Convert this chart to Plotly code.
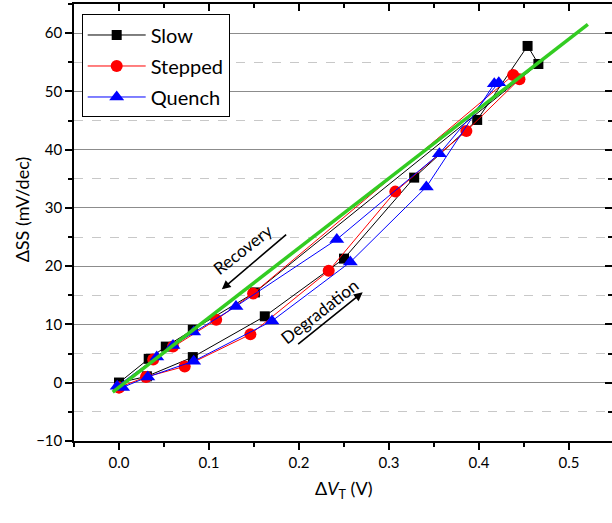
import plotly.graph_objects as go

# ---- data ----
slow_x = [0.0, 0.031, 0.082, 0.162, 0.250, 0.328, 0.398, 0.454, 0.466, 0.151, 0.082, 0.052, 0.033, 0.0]
slow_y = [0.0, 1.1, 4.4, 11.4, 21.3, 35.2, 45.1, 57.8, 54.7, 15.5, 9.1, 6.2, 4.1, 0.0]

stepped_x = [0.0, 0.030, 0.073, 0.146, 0.233, 0.307, 0.386, 0.445, 0.438, 0.149, 0.108, 0.060, 0.038, 0.0]
stepped_y = [-0.8, 1.0, 2.8, 8.3, 19.2, 32.8, 43.2, 52.1, 52.8, 15.3, 10.8, 6.2, 4.0, -0.8]

quench_x = [0.004, 0.032, 0.083, 0.170, 0.257, 0.3415, 0.417, 0.422, 0.356, 0.242, 0.130, 0.083, 0.060, 0.042, -0.002]
quench_y = [-0.8, 1.0, 3.7, 10.6, 20.7, 33.6, 51.3, 51.5, 39.3, 24.6, 13.1, 8.7, 6.4, 4.4, -0.6]

fit_x = [-0.007, 0.521]
fit_y = [-1.6, 61.5]

x_range = [-0.05, 0.5478]
y_range = [-10, 65]

FONT = "Lato"

fig = go.Figure()
fig.add_trace(go.Scatter(x=slow_x, y=slow_y, mode="lines+markers", name="Slow",
                         line=dict(color="black", width=1),
                         marker=dict(symbol="square", size=10, color="black"),
                         legendgroup="a"))
fig.add_trace(go.Scatter(x=stepped_x, y=stepped_y, mode="lines+markers", name="Stepped",
                         line=dict(color="red", width=1),
                         marker=dict(symbol="circle", size=12, color="red"),
                         legendgroup="b"))
fig.add_trace(go.Scatter(x=quench_x, y=quench_y, mode="lines+markers", name="Quench",
                         line=dict(color="blue", width=1),
                         marker=dict(symbol="triangle-up", size=13, color="blue"),
                         legendgroup="c"))
fig.add_trace(go.Scatter(x=fit_x, y=fit_y, mode="lines", showlegend=False,
                         line=dict(color="#33cc22", width=3.5)))
# invisible trace to activate the mirror axes
fig.add_trace(go.Scatter(x=[0], y=[0], xaxis="x2", yaxis="y2", mode="markers",
                         marker=dict(opacity=0), showlegend=False, hoverinfo="skip"))

fig.update_layout(
    width=612, height=523,
    margin=dict(l=74, r=0, t=4, b=82, autoexpand=False),
    plot_bgcolor="white", paper_bgcolor="white",
    font=dict(family=FONT, color="black", size=15),
    showlegend=True,
    legend=dict(x=0.0143, y=0.976, xanchor="left", yanchor="top",
                bordercolor="black", borderwidth=1, bgcolor="white",
                font=dict(size=20, family=FONT), tracegroupgap=2,
                itemwidth=58),
    xaxis=dict(range=x_range, showgrid=False, zeroline=False, automargin=False,
               showline=True, linecolor="black", linewidth=1.5,
               ticks="outside", ticklen=7, tickwidth=1.5, tickcolor="black",
               dtick=0.1, tick0=0, tickformat=".1f",
               minor=dict(dtick=0.05, ticks="outside", ticklen=4, tickwidth=1.5, tickcolor="black"),
               tickfont=dict(size=15)),
    xaxis2=dict(range=x_range, overlaying="x", side="top", showgrid=False, zeroline=False,
                automargin=False,
                showline=True, linecolor="black", linewidth=1.5,
                ticks="inside", ticklen=7, tickwidth=1.5, tickcolor="black",
                dtick=0.1, tick0=0, showticklabels=False,
                minor=dict(dtick=0.05, ticks="inside", ticklen=4, tickwidth=1.5, tickcolor="black")),
    yaxis=dict(range=y_range, zeroline=False, automargin=False,
               showgrid=True, gridcolor="#8c8c8c", gridwidth=1,
               showline=True, linecolor="black", linewidth=1.5,
               ticks="outside", ticklen=7, tickwidth=1.5, tickcolor="black",
               dtick=10, tick0=0,
               minor=dict(dtick=5, ticks="outside", ticklen=4, tickwidth=1.5, tickcolor="black",
                          showgrid=True, gridcolor="#c8c8c8", griddash="dash", gridwidth=1),
               tickfont=dict(size=15)),
    yaxis2=dict(range=y_range, overlaying="y", side="right", showgrid=False, zeroline=False,
                automargin=False,
                showline=True, linecolor="black", linewidth=1.5,
                ticks="inside", ticklen=7, tickwidth=1.5, tickcolor="black",
                dtick=10, tick0=0, showticklabels=False,
                minor=dict(dtick=5, ticks="inside", ticklen=4, tickwidth=1.5, tickcolor="black")),
)

annotations = [
    dict(text="ΔSS (mV/dec)", xref="paper", yref="paper", x=-0.0967, y=0.53,
         textangle=-90, showarrow=False, font=dict(size=18, family=FONT),
         xanchor="center", yanchor="middle"),
    dict(text="Δ<i>V</i><sub>T</sub> (V)", xref="paper", yref="paper", x=0.502, y=-0.112,
         showarrow=False, font=dict(size=18, family=FONT), xanchor="center", yanchor="middle"),
    dict(text="Recovery", x=0.1370, y=22.9, xref="x", yref="y", textangle=-38,
         showarrow=False, font=dict(size=17, family=FONT)),
    dict(text="", x=0.1143, y=16.03, ax=0.1874, ay=25.65, xref="x", yref="y",
         axref="x", ayref="y", showarrow=True, arrowhead=2, arrowsize=1.1,
         arrowwidth=1.6, arrowcolor="black"),
    dict(text="Degradation", x=0.2225, y=12.3, xref="x", yref="y", textangle=-38,
         showarrow=False, font=dict(size=17, family=FONT)),
    dict(text="", x=0.2708, y=15.52, ax=0.1974, ay=6.41, xref="x", yref="y",
         axref="x", ayref="y", showarrow=True, arrowhead=2, arrowsize=1.1,
         arrowwidth=1.6, arrowcolor="black"),
]
fig.update_layout(annotations=annotations)

fig.write_html("out.html", post_script="document.body.style.margin='0';",
               config={"displayModeBar": False})
